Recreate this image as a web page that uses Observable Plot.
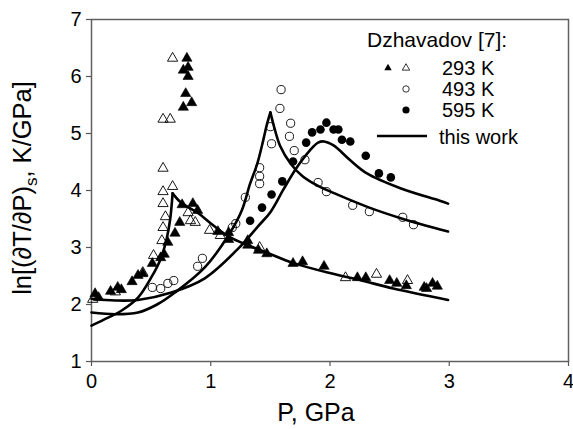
<!DOCTYPE html>
<html><head><meta charset="utf-8">
<script src="https://cdn.jsdelivr.net/npm/d3@7"></script>
<script src="https://cdn.jsdelivr.net/npm/@observablehq/plot@0.6"></script>
<style>body{margin:0;background:#fff}</style>
</head><body><div id="chart"></div>
<script>
// tick values
const xTicks = [0, 1, 2, 3, 4];
const yTicks = [1, 2, 3, 4, 5, 6, 7];

// Dzhavadov [7], 293 K (filled triangles) [P, ln]
const t293Filled = [
  [0.03,2.19],[0.06,2.12],[0.16,2.23],[0.22,2.30],[0.25,2.26],[0.34,2.40],[0.39,2.51],[0.43,2.54],
  [0.51,2.72],[0.58,2.82],[0.61,2.88],[0.64,3.09],[0.70,3.25],[0.74,3.44],[0.76,3.75],[0.85,3.77],
  [0.89,3.65],[1.06,3.28],[1.15,3.26],[1.15,3.14],[1.31,3.12],[1.31,3.04],[1.40,2.95],[1.47,2.89],
  [1.69,2.72],[1.77,2.75],[1.95,2.67],[2.23,2.47],[2.30,2.47],[2.50,2.42],[2.56,2.37],[2.64,2.33],
  [2.79,2.30],[2.81,2.28],[2.86,2.37],[2.90,2.32],
  [0.80,6.32],[0.81,6.16],[0.77,6.11],[0.81,6.00],[0.79,5.70],[0.84,5.54],[0.77,5.46]
];
// 293 K (open triangles)
const t293Open = [
  [0.01,2.09],[0.20,2.22],[0.43,2.56],[0.52,2.86],[0.59,3.12],[0.60,3.35],[0.62,3.54],[0.60,3.77],
  [0.60,3.98],[0.68,4.07],[0.60,4.39],[0.60,5.25],[0.66,5.25],[0.68,6.32],[0.81,3.61],[0.83,3.47],
  [0.87,3.44],[0.99,3.30],[1.08,3.21],[1.41,3.00],[2.13,2.47],[2.39,2.53],[2.65,2.42]
];
// 493 K (open circles)
const c493 = [
  [0.51,2.30],[0.58,2.28],[0.64,2.37],[0.69,2.42],[0.89,2.67],[0.93,2.81],[1.18,3.35],[1.21,3.42],
  [1.29,3.88],[1.41,4.12],[1.41,4.25],[1.41,4.40],[1.51,4.82],[1.50,5.12],[1.58,5.44],[1.59,5.77],
  [1.67,5.18],[1.66,4.95],[1.70,4.70],[1.79,4.54],[1.90,4.14],[1.97,3.98],[2.19,3.74],[2.33,3.63],
  [2.61,3.53],[2.70,3.40]
];
// 595 K (filled circles)
const c595 = [
  [1.33,3.47],[1.43,3.70],[1.51,3.93],[1.60,4.16],[1.69,4.51],[1.80,4.84],[1.85,5.02],[1.92,5.07],
  [1.97,5.19],[2.03,5.07],[2.07,5.07],[2.10,4.89],[2.17,4.86],[2.30,4.61],[2.41,4.30],[2.51,4.23]
];
// this work (model curves), split at the cusp
const work293Rise = [[0.00,1.63],[0.10,1.73],[0.25,1.89],[0.39,2.12],[0.50,2.47],[0.58,2.80],[0.63,3.15],[0.66,3.50],[0.68,3.95]];
const work293Fall = [[0.68,3.95],[0.75,3.79],[0.89,3.61],[1.02,3.39],[1.16,3.18],[1.31,3.04],[1.47,2.91],[1.69,2.73],[1.98,2.56],[2.25,2.43],[2.53,2.28],[2.99,2.08]];
const work493Rise = [[0.00,1.86],[0.20,1.83],[0.39,1.86],[0.55,2.00],[0.70,2.21],[0.95,2.65],[1.15,3.22],[1.26,3.65],[1.33,4.12],[1.39,4.47],[1.44,4.88],[1.47,5.15],[1.50,5.37]];
const work493Fall = [[1.50,5.37],[1.54,5.05],[1.58,4.79],[1.67,4.47],[1.77,4.25],[1.90,4.08],[2.05,3.94],[2.33,3.70],[2.60,3.51],[2.99,3.28]];
const work595 = [[0.00,2.10],[0.20,2.07],[0.39,2.08],[0.67,2.21],[0.95,2.46],[1.23,2.98],[1.40,3.38],[1.50,3.62],[1.61,4.02],[1.72,4.40],[1.83,4.70],[1.90,4.84],[1.95,4.86],[2.03,4.79],[2.17,4.53],[2.31,4.30],[2.59,4.04],[2.92,3.82],[2.99,3.77]];

const curves = [
  ["293r", work293Rise], ["293f", work293Fall],
  ["493r", work493Rise], ["493f", work493Fall],
  ["595", work595]
].flatMap(([k, arr]) => arr.map(([P, v]) => ({k, P, v})));
const pts = arr => arr.map(([P, v]) => ({P, v}));

const FONT = "'Liberation Sans', Arial, sans-serif";
const svg = Plot.plot({
  width: 573, height: 429,
  marginLeft: 91, marginRight: 5, marginTop: 19, marginBottom: 68,
  style: {fontFamily: FONT, fontSize: "20px", color: "black", background: "white"},
  x: {domain: [0, 4]},
  y: {domain: [1, 7]},
  marks: [
    Plot.axisX({ticks: xTicks, tickFormat: d => String(d), tickSize: 5, tickPadding: 7, label: null, fontSize: 20, stroke: "#555", strokeWidth: 1.2}),
    Plot.axisY({ticks: yTicks, tickFormat: d => String(d), tickSize: 5, tickPadding: 5, label: null, fontSize: 20, stroke: "#555", strokeWidth: 1.2}),
    Plot.frame({stroke: "#606060", strokeWidth: 1.5}),
    Plot.line(curves, {x: "P", y: "v", z: "k", curve: "catmull-rom", stroke: "black", strokeWidth: 2.6}),
    Plot.dot(pts(t293Open), {x: "P", y: "v", symbol: "triangle", r: 3.8, fill: "none", stroke: "black", strokeWidth: 0.9}),
    Plot.dot(pts(t293Filled), {x: "P", y: "v", symbol: "triangle", r: 3.8, fill: "black", stroke: "black", strokeWidth: 0.6}),
    Plot.dot(pts(c493), {x: "P", y: "v", r: 4.1, fill: "none", stroke: "black", strokeWidth: 0.9}),
    Plot.dot(pts(c595), {x: "P", y: "v", r: 4.3, fill: "black", stroke: "none"})
  ]
});
document.getElementById("chart").appendChild(svg);

// axis titles and legend (text)
const s = d3.select(svg);
s.append("text").attr("x", 316).attr("y", 421).attr("text-anchor", "middle")
  .attr("font-size", 25).attr("font-family", FONT).attr("fill", "black").text("P, GPa");
const yt = s.append("text").attr("transform", "translate(31,188) rotate(-90)").attr("text-anchor", "middle")
  .attr("font-size", 25.5).attr("font-family", FONT).attr("fill", "black");
yt.append("tspan").text("ln[(∂T/∂P)");
yt.append("tspan").attr("font-size", 17).attr("dy", 6).text("s");
yt.append("tspan").attr("dy", -6).text(", K/GPa]");

const lg = s.append("g").attr("font-family", FONT).attr("font-size", 20).attr("fill", "black").attr("text-anchor", "start");
lg.append("text").attr("x", 367).attr("y", 47).attr("font-size", 21).text("Dzhavadov [7]:");
const legendLabels = ["293 K", "493 K", "595 K", "this work"];
const legendY = [75, 96, 117, 144];
legendLabels.forEach((t, i) => lg.append("text").attr("x", i < 3 ? 442 : 439).attr("y", legendY[i]).text(t));
const tri = d3.symbol(d3.symbolTriangle, 24)();
lg.append("path").attr("d", tri).attr("transform", "translate(388,68)").attr("fill", "black");
lg.append("path").attr("d", tri).attr("transform", "translate(406,68)").attr("fill", "none").attr("stroke", "black").attr("stroke-width", 0.8);
lg.append("circle").attr("cx", 406).attr("cy", 89).attr("r", 3.2).attr("fill", "none").attr("stroke", "black").attr("stroke-width", 0.8);
lg.append("circle").attr("cx", 406).attr("cy", 110).attr("r", 3.6).attr("fill", "black");
lg.append("line").attr("x1", 377).attr("x2", 427).attr("y1", 136).attr("y2", 136).attr("stroke", "black").attr("stroke-width", 2.6);
</script></body></html>
